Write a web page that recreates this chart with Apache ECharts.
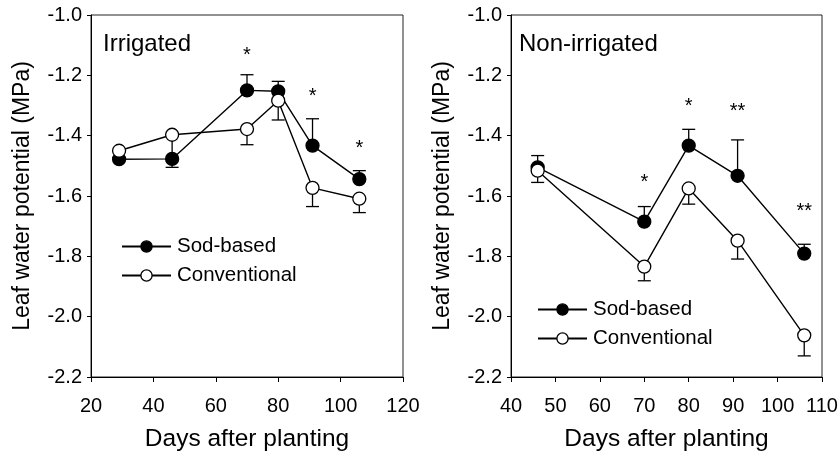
<!DOCTYPE html>
<html><head><meta charset="utf-8">
<script src="https://cdn.jsdelivr.net/npm/echarts@6/dist/echarts.min.js"></script>
<style>html,body{margin:0;padding:0;background:#fff}#c{width:839px;height:453px}</style>
</head><body><div id="c"></div>
<script>
// ---- Irrigated panel ----
const irrDays = [29, 46, 70, 80, 91, 106];
const irrSod = [-1.478, -1.477, -1.250, -1.253, -1.433, -1.544];
const irrSodErrEnd = [-1.478, -1.477, -1.198, -1.220, -1.344, -1.516];
const irrConv = [-1.450, -1.397, -1.378, -1.284, -1.573, -1.609];
const irrConvErrEnd = [-1.450, -1.505, -1.430, -1.348, -1.635, -1.655];
const irrSigDays = [70, 91, 106];
const irrSigY = [-1.119, -1.252, -1.425];
const irrSigText = ['*', '*', '*'];
// ---- Non-irrigated panel ----
const nonDays = [46, 70, 80, 91, 106];
const nonSod = [-1.505, -1.685, -1.433, -1.533, -1.791];
const nonSodErrEnd = [-1.466, -1.635, -1.379, -1.414, -1.760];
const nonConv = [-1.516, -1.834, -1.575, -1.748, -2.062];
const nonConvErrEnd = [-1.555, -1.881, -1.627, -1.809, -2.130];
const nonSigDays = [70, 80, 91, 106];
const nonSigY = [-1.539, -1.287, -1.302, -1.635];
const nonSigText = ['*', '*', '**', '**'];
// ---- labels ----
const seriesNames = ['Sod-based', 'Conventional'];
const panelTitles = ['Irrigated', 'Non-irrigated'];
const xTitle = 'Days after planting';
const yTitle = 'Leaf water potential (MPa)';

const FONT = 'Liberation Sans, Arial, sans-serif';
const zip = (a, b) => a.map((v, i) => [v, b[i]]);
const zip3 = (a, b, c) => a.map((v, i) => [v, b[i], c[i]]);

function errRender(params, api) {
  const x = api.value(0), y0 = api.value(1), y1 = api.value(2);
  if (Math.abs(y1 - y0) < 1e-9) return null;
  const p0 = api.coord([x, y0]), p1 = api.coord([x, y1]);
  const hw = 6.5;
  return {type: 'group', children: [
    {type: 'line', shape: {x1: p0[0], y1: p0[1], x2: p1[0], y2: p1[1]}, style: {stroke: '#000', lineWidth: 1.3}},
    {type: 'line', shape: {x1: p1[0] - hw, y1: p1[1], x2: p1[0] + hw, y2: p1[1]}, style: {stroke: '#000', lineWidth: 1.3}}
  ]};
}
function sigRender(texts) {
  return function (params, api) {
    const p = api.coord([api.value(0), api.value(1)]);
    return {type: 'text', x: p[0], y: p[1] + 5, style: {text: texts[params.dataIndex], fontSize: 20, fontFamily: FONT, fill: '#000', align: 'center', verticalAlign: 'middle'}};
  };
}
function xAxis(idx, min, max, interval) {
  return {type: 'value', gridIndex: idx, min: min, max: max, interval: interval,
    name: xTitle, nameLocation: 'middle', nameGap: 50,
    nameTextStyle: {fontSize: 24.5, fontFamily: FONT, color: '#000'},
    axisLine: {lineStyle: {color: '#000', width: 1}},
    axisTick: {show: true, inside: false, length: 5, lineStyle: {color: '#000'}},
    axisLabel: {fontSize: 20, fontFamily: FONT, color: '#000', margin: 19},
    splitLine: {show: false}};
}
function yAxis(idx) {
  return {type: 'value', gridIndex: idx, min: -2.2, max: -1.0, interval: 0.2,
    name: yTitle, nameLocation: 'middle', nameGap: 57, nameRotate: 90,
    nameTextStyle: {fontSize: 23, fontFamily: FONT, color: '#000'},
    axisLine: {show: true, lineStyle: {color: '#000', width: 1}},
    axisTick: {show: true, inside: false, length: 4, lineStyle: {color: '#000'}},
    axisLabel: {fontSize: 20, fontFamily: FONT, color: '#000', margin: 9, formatter: v => v.toFixed(1)},
    splitLine: {show: false}};
}
function lineSeries(name, idx, data, filled) {
  return {type: 'line', name: name, xAxisIndex: idx, yAxisIndex: idx, data: data,
    symbol: 'circle', symbolSize: 13, showSymbol: true, z: filled ? 3 : 4,
    lineStyle: {color: '#000', width: 1.4},
    itemStyle: {color: filled ? '#000' : '#fff', borderColor: '#000', borderWidth: 1.3}};
}
function errSeries(idx, data) {
  return {type: 'custom', xAxisIndex: idx, yAxisIndex: idx, data: data, z: 2,
    encode: {x: 0, y: [1, 2]}, renderItem: errRender, silent: true};
}
function sigSeries(idx, data, texts) {
  return {type: 'custom', xAxisIndex: idx, yAxisIndex: idx, data: data, z: 5,
    encode: {x: 0, y: 1}, renderItem: sigRender(texts), silent: true};
}
const legendBase = {orient: 'vertical', data: seriesNames, itemWidth: 49, itemHeight: 14, itemGap: 8,
  itemStyle: {borderWidth: 1.3}, textStyle: {fontSize: 20.5, fontFamily: FONT, color: '#000', padding: [0, 0, 0, 1]}, selectedMode: false};

const chart = echarts.init(document.getElementById('c'));
chart.setOption({
  animation: false,
  backgroundColor: '#fff',
  title: [
    {text: panelTitles[0], left: 103, top: 32, padding: 0, textStyle: {fontSize: 24, fontWeight: 'normal', fontFamily: FONT, color: '#000'}},
    {text: panelTitles[1], left: 519, top: 32, padding: 0, textStyle: {fontSize: 24, fontWeight: 'normal', fontFamily: FONT, color: '#000'}}
  ],
  legend: [
    Object.assign({left: 116, top: 231}, legendBase),
    Object.assign({left: 532, top: 294}, legendBase)
  ],
  grid: [
    {left: 91, right: 436, top: 15, bottom: 76, outerBoundsMode: 'none', containLabel: false, show: true, borderColor: '#222', borderWidth: 1, backgroundColor: 'transparent'},
    {left: 511, right: 17, top: 15, bottom: 76, outerBoundsMode: 'none', containLabel: false, show: true, borderColor: '#222', borderWidth: 1, backgroundColor: 'transparent'}
  ],
  xAxis: [xAxis(0, 20, 120, 20), xAxis(1, 40, 110, 10)],
  yAxis: [yAxis(0), yAxis(1)],
  series: [
    errSeries(0, zip3(irrDays, irrSod, irrSodErrEnd)),
    errSeries(0, zip3(irrDays, irrConv, irrConvErrEnd)),
    lineSeries(seriesNames[0], 0, zip(irrDays, irrSod), true),
    lineSeries(seriesNames[1], 0, zip(irrDays, irrConv), false),
    sigSeries(0, zip(irrSigDays, irrSigY), irrSigText),
    errSeries(1, zip3(nonDays, nonSod, nonSodErrEnd)),
    errSeries(1, zip3(nonDays, nonConv, nonConvErrEnd)),
    lineSeries(seriesNames[0], 1, zip(nonDays, nonSod), true),
    lineSeries(seriesNames[1], 1, zip(nonDays, nonConv), false),
    sigSeries(1, zip(nonSigDays, nonSigY), nonSigText)
  ]
});
</script></body></html>
